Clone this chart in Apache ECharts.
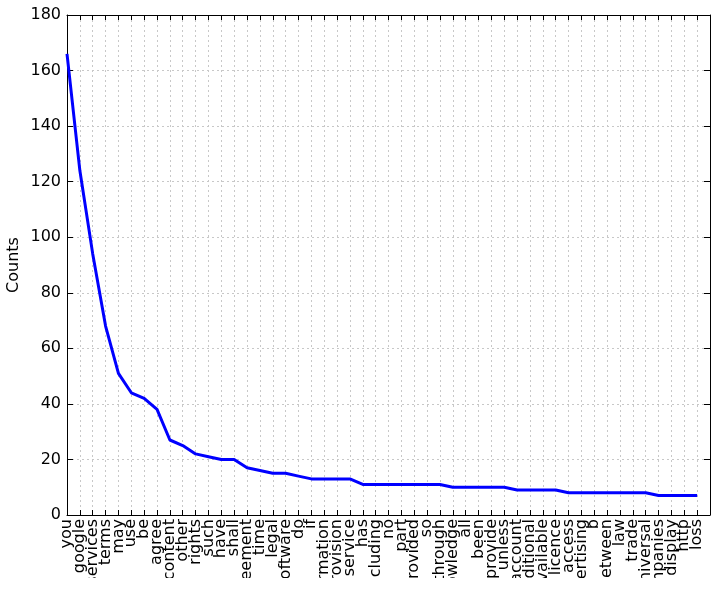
<!DOCTYPE html>
<html>
<head>
<meta charset="utf-8">
<script src="https://cdn.jsdelivr.net/npm/echarts@6/dist/echarts.min.js"></script>
<style>
  html, body { margin: 0; padding: 0; background: #fff; }
  #chart { width: 712px; height: 578px; }
</style>
</head>
<body>
<div id="chart"></div>
<script>
var words = ['you', 'google', 'services', 'terms', 'may', 'use', 'be', 'agree', 'content', 'other',
    'rights', 'such', 'have', 'shall', 'agreement', 'time', 'legal', 'software', 'do', 'if',
    'information', 'provision', 'service', 'has', 'including', 'no', 'part', 'provided', 'so', 'through',
    'knowledge', 'all', 'been', 'provide', 'unless', 'account', 'additional', 'available', 'licence', 'access',
    'advertising', 'b', 'between', 'law', 'trade', 'universal', 'companies', 'display', 'http', 'loss'];

var counts = [166, 124, 94, 68, 51, 44, 42, 38, 27, 25,
    22, 21, 20, 20, 17, 16, 15, 15, 14, 13,
    13, 13, 13, 11, 11, 11, 11, 11, 11, 11,
    10, 10, 10, 10, 10, 9, 9, 9, 9, 8,
    8, 8, 8, 8, 8, 8, 7, 7, 7, 7];

// matplotlib pads the x range to 50, so one empty slot at the end
var xCats = words.concat(['']);

var chart = echarts.init(document.getElementById('chart'));

var font = 'DejaVu Sans';

var gridLine = {
    show: true,
    interval: 0,
    lineStyle: { color: '#c8c8c8', type: [2, 3], width: 1 }
};

var option = {
    animation: false,
    grid: { left: 67, right: 2, top: 15, bottom: 63, outerBoundsMode: 'none', containLabel: false },
    xAxis: [{
        type: 'category',
        data: xCats,
        boundaryGap: false,
        axisLine: { onZero: false, lineStyle: { color: '#000', width: 1 } },
        axisTick: { inside: true, interval: 0, length: 5, lineStyle: { color: '#000' } },
        axisLabel: {
            rotate: 90,
            interval: 0,
            margin: 4,
            fontFamily: font,
            fontSize: 16,
            color: '#000'
        },
        splitLine: gridLine
    }, {
        type: 'category',
        data: xCats,
        boundaryGap: false,
        position: 'top',
        axisLine: { onZero: false, lineStyle: { color: '#000', width: 1 } },
        axisTick: { inside: true, interval: 0, length: 5, lineStyle: { color: '#000' } },
        axisLabel: { show: false },
        splitLine: { show: false }
    }],
    yAxis: [{
        type: 'value',
        min: 0,
        max: 180,
        interval: 20,
        name: 'Counts',
        nameLocation: 'middle',
        nameGap: 45,
        nameMoveOverlap: false,
        nameTextStyle: { fontFamily: font, fontSize: 16, color: '#000' },
        axisLine: { show: true, onZero: false, lineStyle: { color: '#000', width: 1 } },
        axisTick: { show: true, inside: true, length: 6, lineStyle: { color: '#000' } },
        axisLabel: { fontFamily: font, fontSize: 16, color: '#000', margin: 6 },
        splitLine: gridLine
    }, {
        type: 'value',
        position: 'right',
        min: 0,
        max: 180,
        interval: 20,
        axisLine: { show: true, onZero: false, lineStyle: { color: '#000', width: 1 } },
        axisTick: { show: true, inside: true, length: 6, lineStyle: { color: '#000' } },
        axisLabel: { show: false },
        splitLine: { show: false }
    }],
    series: [{
        type: 'line',
        xAxisIndex: 0,
        yAxisIndex: 0,
        showSymbol: false,
        data: counts,
        lineStyle: { color: '#0000ff', width: 3 }
    }]
};

chart.setOption(option);
</script>
</body>
</html>
